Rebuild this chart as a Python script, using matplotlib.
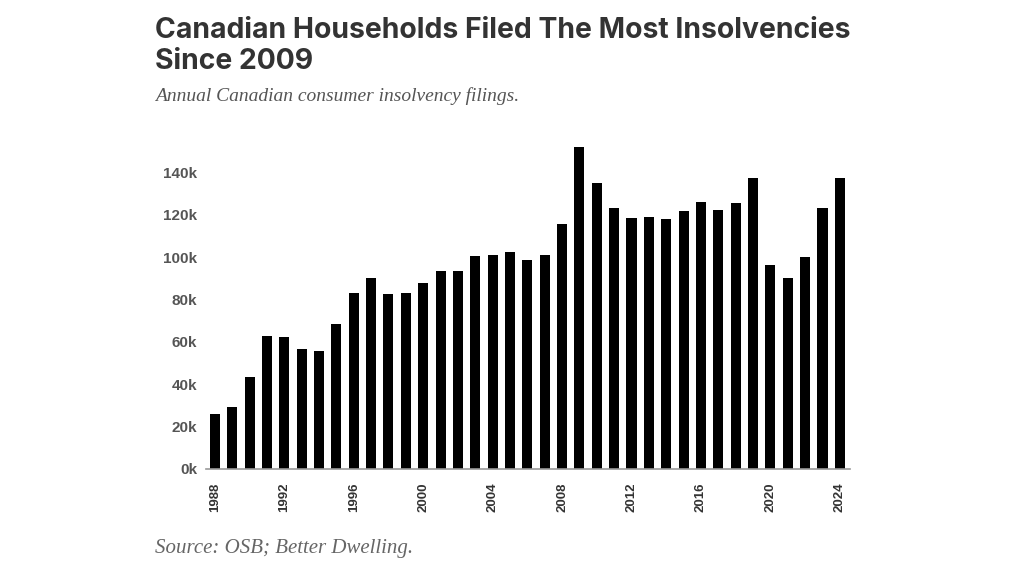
import matplotlib.pyplot as plt
import numpy as np

# Annual Canadian consumer insolvency filings (thousands)
years = np.arange(1988, 2025)
filings_k = [
    26.0, 29.1, 43.3, 62.8, 62.3, 56.5, 55.7, 68.3, 83.1, 90.1,
    82.7, 83.1, 87.8, 93.3, 93.3, 100.7, 101.1, 102.5, 98.5, 101.1,
    115.6, 151.8, 134.8, 123.0, 118.3, 118.8, 118.0, 121.6, 125.9, 122.2,
    125.4, 137.2, 96.4, 90.1, 99.9, 123.0, 137.2,
]
y_ticks = [0, 20, 40, 60, 80, 100, 120, 140]
x_ticks = list(range(1988, 2025, 4))

fig = plt.figure(figsize=(10.24, 5.76), dpi=100)
ax = fig.add_axes([0.201, 0.186, 0.629, 0.570])

ax.bar(years, filings_k, width=0.58, color="black")

ax.set_xlim(1988 - 0.52, 2024 + 0.58)
ax.set_ylim(0, 155)
ax.set_yticks(y_ticks)
ax.set_yticklabels([f"{v}k" for v in y_ticks], fontsize=11, fontweight="bold",
                   color="#555555", family="Liberation Sans")
ax.set_xticks(x_ticks)
ax.set_xticklabels([str(y) for y in x_ticks], rotation=90, fontsize=9.5,
                   fontweight="bold", color="#333333", family="Liberation Sans")
ax.tick_params(axis="y", length=0, pad=6)
ax.tick_params(axis="x", length=0, pad=10)

for side in ["top", "right", "left"]:
    ax.spines[side].set_visible(False)
ax.spines["bottom"].set_color("#999999")
ax.spines["bottom"].set_linewidth(1.2)

fig.text(0.151, 0.920, "Canadian Households Filed The Most Insolvencies\nSince 2009",
         fontsize=20.4, fontweight="bold", color="#333333", family="Inter",
         va="center", ha="left", linespacing=1.2)
fig.text(0.151, 0.833, "Annual Canadian consumer insolvency filings.",
         fontsize=14, style="italic", color="#555555", family="Liberation Serif",
         va="center", ha="left")
fig.text(0.151, 0.048, "Source: OSB; Better Dwelling.",
         fontsize=15, style="italic", color="#666666", family="Liberation Serif",
         va="center", ha="left")

fig.savefig("out.png", dpi=100, facecolor="white")
